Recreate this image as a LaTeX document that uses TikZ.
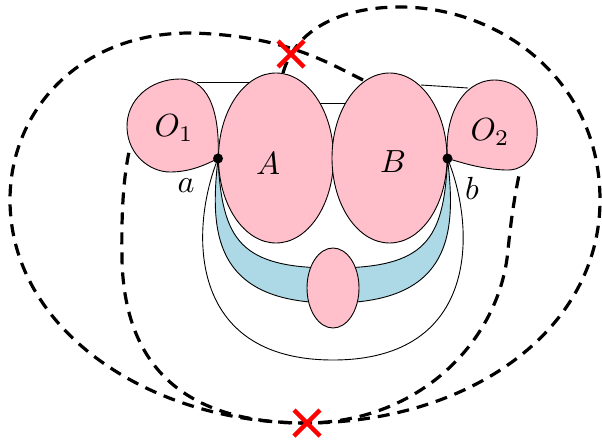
\documentclass[tikz,border=0pt]{standalone}
\usepackage{xcolor}
\definecolor{pinkfill}{RGB}{255,192,203}
\definecolor{bluefill}{RGB}{173,216,230}
\tikzset{
  outline/.style={draw=black, line width=0.9pt},
  lobe/.style={outline, fill=pinkfill},
  curvedash/.style={draw=black, line width=3.2pt, dash pattern=on 12pt off 8pt},
  redcross/.style={draw=red, line width=4.5pt},
  lbl/.style={font=\normalsize, scale=3.2, inner sep=0pt},
  dotmark/.style={circle, fill=black, inner sep=0pt, minimum size=10pt}
}
\begin{document}
\begin{tikzpicture}[x=1pt, y=-1pt]
\useasboundingbox (0,0) rectangle (602,442);
\coordinate (a) at (218,158.5);
\coordinate (b) at (447.5,158.5);
% outer white lobe
\draw[outline, fill=white] (a) .. controls (190,228) and (186,360) .. (333,360)
  .. controls (480,360) and (476,228) .. (b);
% blue band
\draw[outline, fill=bluefill] (a) .. controls (210,230) and (212,303) .. (333,303)
  .. controls (454,303) and (456,230) .. (b)
  .. controls (444,240) and (426,268) .. (333,268)
  .. controls (240,268) and (222,240) .. (a) -- cycle;
% big ellipses
\draw[lobe] (276,158) ellipse [x radius=57.5, y radius=85];
\draw[lobe] (389.5,158) ellipse [x radius=57.5, y radius=85];
% small ellipse
\draw[lobe] (333,288) ellipse [x radius=26, y radius=40];
% O1
\draw[lobe] (a) .. controls (220,120) and (212,79) .. (180,79)
  .. controls (150,79) and (126,100) .. (127,128)
  .. controls (128,155) and (150,172) .. (170,172)
  .. controls (190,172) and (205,165) .. (a) -- cycle;
% O2
\draw[lobe] (b) .. controls (444,120) and (460,81) .. (494,80)
  .. controls (525,80) and (539,110) .. (537,137)
  .. controls (535,160) and (522,171) .. (505,170)
  .. controls (480,169) and (460,162) .. (b) -- cycle;
% thin connecting lines
\coordinate (t1) at (197,82);
\coordinate (t2) at (250,82);
\coordinate (m1) at (320,103);
\coordinate (m2) at (345,103);
\coordinate (r1) at (421,85);
\coordinate (r2) at (468,88);
\draw[outline] (t1) -- (t2);
\draw[outline] (m1) -- (m2);
\draw[outline] (r1) -- (r2);
% labels
\node[lbl] (lo1) at (174,128) {$O_1$};
\node[lbl] (la) at (268,164) {$A$};
\node[lbl] (lb) at (393,162) {$B$};
\node[lbl] (lo2) at (490,132) {$O_2$};
\node[lbl] (lsa) at (186,186) {$a$};
\node[lbl] (lsb) at (472,188) {$b$};
% dots
\node[dotmark] (da) at (a) {};
\node[dotmark] (db) at (b) {};
% dashed curves
\coordinate (atop) at (283,73);
\coordinate (btop) at (363,80);
\coordinate (o1s) at (130,147);
\coordinate (o2s) at (520,170);
\draw[curvedash] (atop) .. controls (295,30) and (340,7) .. (400,7)
  .. controls (500,7) and (600,80) .. (600,200)
  .. controls (600,330) and (470,423) .. (305,423)
  .. controls (200,423) and (125,380) .. (122,260)
  .. controls (121,200) and (125,170) .. (o1s);
\draw[curvedash] (btop) .. controls (330,64) and (285,35) .. (190,33)
  .. controls (80,33) and (10,110) .. (10,200)
  .. controls (10,330) and (150,423) .. (305,423)
  .. controls (420,423) and (500,340) .. (508,250)
  .. controls (512,210) and (516,190) .. (o2s);
% red crosses
\coordinate (x1) at (291,54);
\coordinate (x2) at (307,423);
\draw[redcross] ([shift={(-13,-13)}]x1) -- ([shift={(13,13)}]x1);
\draw[redcross] ([shift={(-13,13)}]x1) -- ([shift={(13,-13)}]x1);
\draw[redcross] ([shift={(-13,-13)}]x2) -- ([shift={(13,13)}]x2);
\draw[redcross] ([shift={(-13,13)}]x2) -- ([shift={(13,-13)}]x2);
\end{tikzpicture}
\end{document}
